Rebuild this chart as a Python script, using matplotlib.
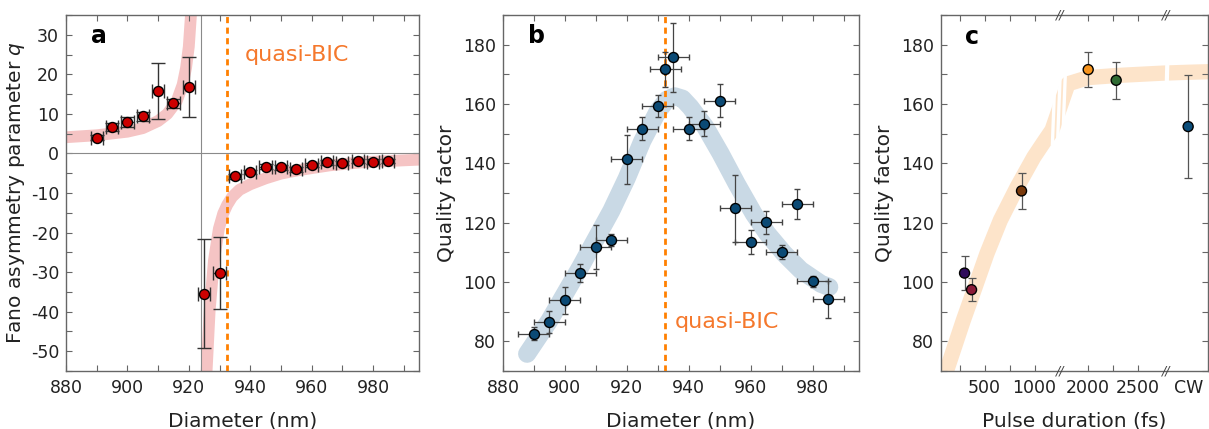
import numpy as np
import matplotlib.pyplot as plt
from matplotlib import transforms
from matplotlib.ticker import MultipleLocator

plt.rcParams['font.family'] = ['DejaVu Sans']
plt.rcParams['font.size'] = 12.5
plt.rcParams['axes.linewidth'] = 1.0
plt.rcParams['axes.edgecolor'] = '#666666'
plt.rcParams['axes.unicode_minus'] = False

# ---- panel a: Fano asymmetry parameter vs diameter ----
diam_a = [890, 895, 900, 905, 910, 915, 920, 925, 930, 935,
          940, 945, 950, 955, 960, 965, 970, 975, 980, 985]
q_vals = [4.0, 6.7, 7.9, 9.4, 15.8, 12.7, 16.8, -35.5, -30.2, -5.8,
          -4.7, -3.3, -3.5, -4.0, -2.9, -2.2, -2.4, -1.9, -2.1, -1.9]
q_err = [0.6, 1.0, 1.3, 1.1, 7.0, 1.1, 7.5, 13.8, 9.1, 0.6,
         0.6, 0.6, 0.6, 0.6, 0.6, 0.6, 0.6, 0.6, 0.6, 0.6]
diam_a_err = 2.0

# fitted curve, two branches either side of the pole
fit_left_d = [878, 890, 900, 905, 910, 913, 916, 918, 919.1, 920, 920.7, 921.3]
fit_left_q = [4.0, 4.6, 5.5, 6.4, 8.2, 10.0, 13.1, 17.4, 21.6, 27.0, 35.0, 42.0]
fit_right_d = [925.6, 926.8, 928.2, 929.8, 931.2, 932.5, 934.1, 936.5, 940,
               945, 950, 956, 966, 977, 997]
fit_right_q = [-58.0, -39.6, -27.0, -19.0, -15.2, -13.0, -11.0, -9.2, -7.8,
               -6.3, -5.1, -4.2, -3.0, -2.2, -1.5]

pole_diam = 924
bic_diam = 932.5

# ---- panel b: quality factor vs diameter ----
diam_b = [890, 895, 900, 905, 910, 915, 920, 925, 930, 932.5, 935,
          940, 945, 950, 955, 960, 965, 970, 975, 980, 985]
qf_b = [82.6, 86.4, 93.8, 103.1, 111.8, 114.2, 141.3, 151.7, 159.3, 171.7, 175.8,
        151.7, 153.4, 161.1, 124.8, 113.5, 120.1, 110.0, 126.3, 100.2, 94.2]
qf_b_err = [2.2, 3.7, 4.6, 3.0, 7.5, 2.0, 8.3, 3.8, 3.6, 6.0, 11.6,
            4.0, 4.2, 5.5, 11.3, 3.9, 3.8, 2.4, 5.2, 1.8, 6.3]
diam_b_err = 5.0

trend_b_d = [887.8, 895, 900, 905, 910, 915, 920, 925, 930, 933, 935.5,
             938, 940.5, 945.4, 950.3, 955.5, 961, 965.4, 970.8, 976.2, 982.7, 985.4]
trend_b_q = [75.8, 87.0, 96.0, 105.0, 114.5, 124.0, 135.0, 147.5, 157.5, 161.5, 162.6,
             161.8, 159.0, 152.2, 143.3, 133.1, 123.0, 116.3, 109.6, 104.0, 99.4, 98.3]

# ---- panel c: quality factor vs pulse duration ----
cw_pos = 3000  # where the CW point sits on the broken axis
pulse = [300, 370, 870, 2000, 2280, cw_pos]
qf_c = [103.0, 97.4, 130.7, 171.6, 168.0, 152.4]
qf_c_err = [5.6, 3.9, 6.2, 6.0, 6.2, 17.3]
pulse_colors = ['#2e0b5c', '#8b1b38', '#7a3a0c', '#f7941d', '#2f6b33', '#0b4d7a']

trend_c_t = [55, 121, 288, 406, 524, 658, 826, 993, 1100, 1175,
             1798, 2000, 2280, 2740, 3000, 3220]
trend_c_q = [65.5, 70.2, 87.1, 98.3, 109.6, 120.8, 132.0, 142.1, 147.5, 151.2,
             166.8, 168.9, 169.6, 170.4, 170.7, 170.9]

pulse_ticks = [500, 1000, 2000, 2500, cw_pos]
pulse_labels = ['500', '1000', '2000', '2500', 'CW']
pulse_minor = [250, 750, 2250]

# broken pulse-duration axis: squeeze 1175..1798 fs into a narrow strip
GAP_LO, GAP_HI, GAP_W = 1175.0, 1798.0, 160.0
SHIFT = GAP_HI - (GAP_LO + GAP_W)
BREAK2 = 2784.0


def fwd(x):
    x = np.asarray(x, dtype=float)
    return np.where(x <= GAP_LO, x,
                    np.where(x >= GAP_HI, x - SHIFT,
                             GAP_LO + (x - GAP_LO) * GAP_W / (GAP_HI - GAP_LO)))


def inv(y):
    y = np.asarray(y, dtype=float)
    return np.where(y <= GAP_LO, y,
                    np.where(y >= GAP_LO + GAP_W, y + SHIFT,
                             GAP_LO + (y - GAP_LO) * (GAP_HI - GAP_LO) / GAP_W))


ORANGE = '#ff8000'
TEXT_ORANGE = '#f5782c'
GREY_TXT = '#222222'


def style_axes(ax):
    ax.tick_params(which='both', direction='in', top=True, right=True,
                   length=4, width=0.8, color='#666666', labelcolor=GREY_TXT)
    ax.tick_params(axis='x', pad=6)
    ax.tick_params(axis='y', pad=5)


fig = plt.figure(figsize=(12.09, 4.29), dpi=100)
bottom, top = 0.1352, 0.965
ax_a = fig.add_axes([0.0546, bottom, 0.2920, top - bottom])
ax_b = fig.add_axes([0.4160, bottom, 0.2945, top - bottom])
ax_c = fig.add_axes([0.7783, bottom, 0.2209, top - bottom])

# panel a
ax_a.plot(fit_left_d, fit_left_q, color='#f5c4c4', lw=8.5, solid_capstyle='butt', zorder=1)
ax_a.plot(fit_right_d, fit_right_q, color='#f5c4c4', lw=8.5, solid_capstyle='butt', zorder=1)
ax_a.axhline(0, color='#8a8a8a', lw=0.8, zorder=2)
ax_a.axvline(pole_diam, color='#8a8a8a', lw=0.8, zorder=2)
ax_a.axvline(bic_diam, color=ORANGE, lw=2.0, ls=(0, (2.2, 1.6)), zorder=3)
ax_a.errorbar(diam_a, q_vals, yerr=q_err, xerr=diam_a_err, fmt='o', ms=7.2,
              mfc='#cc0000', mec='black', mew=1.0, ecolor='#333333', elinewidth=1.0,
              capsize=5, capthick=1.0, zorder=4)
ax_a.set_xlim(880, 995)
ax_a.set_ylim(-55, 35)
ax_a.xaxis.set_major_locator(MultipleLocator(20))
ax_a.xaxis.set_minor_locator(MultipleLocator(10))
ax_a.yaxis.set_major_locator(MultipleLocator(10))
ax_a.yaxis.set_minor_locator(MultipleLocator(5))
ax_a.set_xlabel('Diameter (nm)', fontsize=14.5, labelpad=10, color=GREY_TXT)
ax_a.set_ylabel('Fano asymmetry parameter $q$', fontsize=14.5, labelpad=3, color=GREY_TXT)
ax_a.text(938.2, 24.8, 'quasi-BIC', color=TEXT_ORANGE, fontsize=16, va='center')
ax_a.text(0.07, 0.94, 'a', transform=ax_a.transAxes, fontsize=17,
          fontweight='bold', va='center')
style_axes(ax_a)

# panel b
ax_b.plot(trend_b_d, trend_b_q, color='#c9d9e5', lw=13, solid_capstyle='round',
          solid_joinstyle='round', zorder=1)
ax_b.axvline(bic_diam, color=ORANGE, lw=2.0, ls=(0, (2.2, 1.6)), zorder=3)
ax_b.errorbar(diam_b, qf_b, yerr=qf_b_err, xerr=diam_b_err, fmt='o', ms=7.2,
              mfc='#0b4a75', mec='black', mew=1.0, ecolor='#444444', elinewidth=0.9,
              capsize=2.5, capthick=0.9, zorder=4)
ax_b.set_xlim(880, 995)
ax_b.set_ylim(70, 190)
ax_b.xaxis.set_major_locator(MultipleLocator(20))
ax_b.xaxis.set_minor_locator(MultipleLocator(10))
ax_b.yaxis.set_major_locator(MultipleLocator(20))
ax_b.yaxis.set_minor_locator(MultipleLocator(10))
ax_b.set_xlabel('Diameter (nm)', fontsize=14.5, labelpad=10, color=GREY_TXT)
ax_b.set_ylabel('Quality factor', fontsize=14.5, labelpad=5, color=GREY_TXT)
ax_b.text(935.4, 86.5, 'quasi-BIC', color=TEXT_ORANGE, fontsize=16, va='center')
ax_b.text(0.07, 0.94, 'b', transform=ax_b.transAxes, fontsize=17,
          fontweight='bold', va='center')
style_axes(ax_b)

# panel c
ax_c.set_xscale('function', functions=(fwd, inv))
ax_c.plot(trend_c_t, trend_c_q, color='#fde4ca', lw=11, solid_capstyle='butt',
          solid_joinstyle='round', zorder=1)
# white cuts through the band where the axis is broken
for k in range(3):
    x0, x1 = inv([GAP_LO + (0.02 + 0.32 * k) * GAP_W, GAP_LO + (0.22 + 0.32 * k) * GAP_W])
    ax_c.plot([x0, x1], [146, 174], color='white', lw=2.4, zorder=2,
              solid_capstyle='butt')
ax_c.plot([BREAK2, BREAK2 + 10], [164, 177], color='white', lw=3, zorder=2)
ax_c.errorbar(pulse, qf_c, yerr=qf_c_err, fmt='none', ecolor='#555555',
              elinewidth=0.9, capsize=3, capthick=0.9, zorder=3)
ax_c.scatter(pulse, qf_c, s=52, c=pulse_colors, edgecolors='black',
             linewidths=1.0, zorder=4)
ax_c.set_xlim(64, 3199)
ax_c.set_ylim(70, 190)
ax_c.set_xticks(pulse_ticks)
ax_c.set_xticklabels(pulse_labels)
ax_c.set_xticks(pulse_minor, minor=True)
ax_c.yaxis.set_major_locator(MultipleLocator(20))
ax_c.yaxis.set_minor_locator(MultipleLocator(10))
ax_c.set_xlabel('Pulse duration (fs)', fontsize=14.5, labelpad=10, color=GREY_TXT)
ax_c.set_ylabel('Quality factor', fontsize=14.5, labelpad=5, color=GREY_TXT)
ax_c.text(0.09, 0.937, 'c', transform=ax_c.transAxes, fontsize=17,
          fontweight='bold', va='center')
style_axes(ax_c)
cw_tick = ax_c.xaxis.get_major_ticks()[-1]
cw_tick.tick1line.set_visible(False)
cw_tick.tick2line.set_visible(False)

# "//" break marks on the top and bottom spines
brk = transforms.blended_transform_factory(ax_c.transData, ax_c.transAxes)
gap_mid = float(inv(GAP_LO + GAP_W / 2))
for xb in (gap_mid, BREAK2):
    for yb in (0.0, 1.0):
        ax_c.text(xb, yb, '//', transform=brk, fontsize=9, color='#444444',
                  ha='center', va='center', clip_on=False, style='italic')

fig.savefig('out.png', dpi=100)
